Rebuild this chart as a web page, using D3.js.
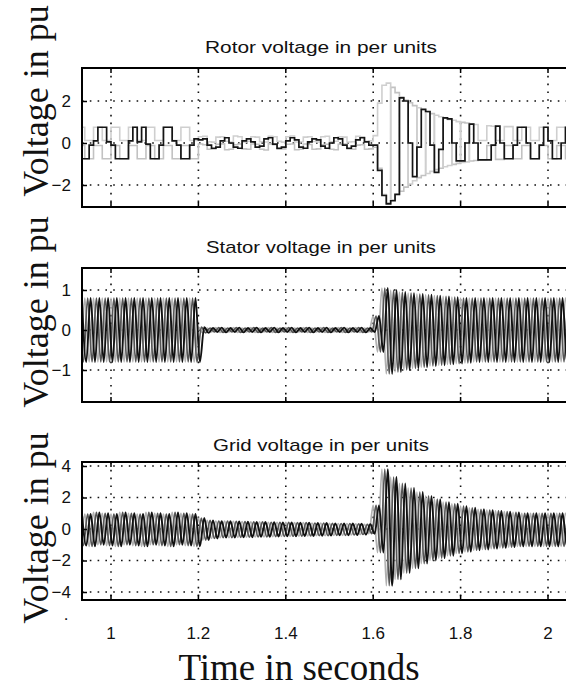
<!DOCTYPE html>
<html>
<head>
<meta charset="utf-8">
<script src="https://cdn.jsdelivr.net/npm/d3@7"></script>
<style>
  html, body { margin: 0; padding: 0; background: #fff; }
  svg { display: block; }
</style>
</head>
<body>
<svg id="chart" width="566" height="692"></svg>
<script>
// ---- data -------------------------------------------------------------
const xTicks = [1, 1.2, 1.4, 1.6, 1.8, 2];
const xTickLabels = ["1", "1.2", "1.4", "1.6", "1.8", "2"];

const rotorTicks = [-2, 0, 2];
const statorTicks = [-1, 0, 1];
const gridTicks = [-4, -2, 0, 2, 4];

const panelTitles = ["Rotor  voltage in per units", "Stator voltage in per units", "Grid voltage in per units"];
const yAxisLabel = "Voltage in pu";
const xAxisLabel = "Time in seconds";

// rotor quantities: held levels, one every 10 ms starting at t = 0.92 s
const rotorStart = 0.92, rotorHold = 0.01;
const rotorGrayHigh = [
  // 0.92 - 1.19
  0.75,0.75,0.12,0.12, 0.75,0.75,0.12,0.12, 0.75,0.75,0.12,0.12, 0.75,0.75,0.12,0.12,
  0.75,0.75,0.12,0.12, 0.75,0.75,0.12,0.12, 0.75,0.75,0.12,0.12,
  // 1.20 - 1.59
  0.3,0.32,0.06,0.04, 0.28,0.3,0.08,0.05, 0.33,0.3,0.05,0.08, 0.3,0.28,0.06,0.05,
  0.32,0.3,0.08,0.04, 0.3,0.33,0.05,0.06, 0.28,0.3,0.07,0.05, 0.3,0.32,0.06,0.08,
  0.3,0.28,0.05,0.06, 0.32,0.3,0.08,0.1,
  // 1.60 - 2.07
  0.35,1.9,2.75,2.85,-2.7,-2.45,2.2,2.05,-1.95,-1.8,
  1.68,1.58,-1.45,-1.35,1.32,1.25,-1.13,-1.07,1.08,1.02,
  -0.93,-0.9,0.92,0.88,0.12,0.12,0.82,0.8,0.12,0.12,
  0.78,0.78,0.12,0.12,0.75,0.75,0.12,0.12,0.75,0.75,
  0.12,0.12,0.75,0.75,0.12,0.12,0.75,0.75
];
const rotorGrayLow = [
  -0.12,-0.12,-0.75,-0.75, -0.12,-0.12,-0.75,-0.75, -0.12,-0.12,-0.75,-0.75, -0.12,-0.12,-0.75,-0.75,
  -0.12,-0.12,-0.75,-0.75, -0.12,-0.12,-0.75,-0.75, -0.12,-0.12,-0.75,-0.75,
  -0.05,-0.08,-0.3,-0.28, -0.06,-0.04,-0.32,-0.3, -0.08,-0.05,-0.28,-0.3, -0.05,-0.06,-0.3,-0.33,
  -0.04,-0.08,-0.3,-0.28, -0.06,-0.05,-0.32,-0.3, -0.05,-0.07,-0.3,-0.28, -0.08,-0.06,-0.3,-0.32,
  -0.06,-0.05,-0.28,-0.3, -0.1,-0.08,-0.3,-0.28,
  -0.2,-1.2,-2.45,-2.85,2.65,2.4,-2.3,-2.1,1.92,1.78,
  -1.65,-1.55,1.48,1.4,-1.27,-1.2,1.18,1.12,-1.02,-0.97,
  0.98,0.95,-0.86,-0.83,-0.8,-0.8,-0.12,-0.12,-0.78,-0.78,
  -0.12,-0.12,-0.75,-0.75,-0.12,-0.12,-0.75,-0.75,-0.12,-0.12,
  -0.75,-0.75,-0.12,-0.12,-0.75,-0.75,-0.12,-0.12
];
const rotorBlack = [
  -0.1,-0.75,-0.75,-0.1,0.1,0.75,0.75,0.05,
  -0.1,-0.75,-0.75,-0.75,0.1,0.75,0.05,0.75,
  -0.05,-0.75,-0.75,-0.1,0.75,0.75,0.1,-0.1,
  -0.75,-0.75,-0.1,0.2,
  0.15,0.2,-0.1,-0.25, -0.2,0.1,0.25,0.0, -0.2,-0.25,0.1,0.2, 0.05,-0.2,-0.15,0.2,
  0.25,-0.05,-0.25,-0.2, 0.1,0.25,0.15,-0.2, -0.25,0.05,0.2,0.15, -0.15,-0.25,0.0,0.25,
  0.2,-0.1,-0.25,-0.15, 0.15,0.25,0.05,-0.1,
  -0.1,-1.3,-2.5,-2.9,-2.75,-2.45,2.15,2.0,0.0,-1.6,
  -0.2,1.6,1.5,-0.1,-1.4,-0.3,1.2,1.15,0.0,-0.85,
  -0.85,0.0,0.9,0.0,-0.8,-0.8,-0.8,-0.1,0.8,0.0,
  -0.75,-0.75,-0.1,0.75,0.75,0.0,-0.75,-0.75,-0.1,0.75,
  0.1,-0.75,-0.75,0.0,0.75,0.75,-0.1,-0.75
];

// three-phase quantities: positive and negative peak of each 20 ms cycle from t = 0.92 s
const cycleStart = 0.92, cyclePeriod = 0.02;
const statorHigh = [
  0.8,0.8,0.8,0.8,0.8,0.8,0.8,0.8,0.8,0.8,0.8,0.8,0.8,0.8,
  0.07,0.05,0.06,0.05,0.06,0.05,0.06,0.05,0.06,0.05,0.06,0.05,0.06,0.05,0.06,0.05,0.06,0.05,0.06,0.05,
  0.35,1.05,1.0,0.95,0.92,0.9,0.88,0.86,0.84,0.82,0.8,0.8,0.8,0.8,0.8,0.8,0.8,0.8,0.8,0.8,0.8,0.8,0.8
];
const statorLow = [
  -0.8,-0.8,-0.8,-0.8,-0.8,-0.8,-0.8,-0.8,-0.8,-0.8,-0.8,-0.8,-0.8,-0.8,
  -0.07,-0.05,-0.06,-0.05,-0.06,-0.05,-0.06,-0.05,-0.06,-0.05,-0.06,-0.05,-0.06,-0.05,-0.06,-0.05,-0.06,-0.05,-0.06,-0.05,
  -0.55,-1.1,-1.05,-1.0,-0.96,-0.93,-0.9,-0.88,-0.86,-0.84,-0.82,-0.8,-0.8,-0.8,-0.8,-0.8,-0.8,-0.8,-0.8,-0.8,-0.8,-0.8,-0.8
];
const gridHigh = [
  1.0,0.95,1.05,1.0,0.95,1.05,1.0,0.95,1.05,1.0,0.95,1.05,1.0,0.95,
  0.7,0.55,0.5,0.5,0.48,0.47,0.45,0.45,0.43,0.42,0.42,0.4,0.4,0.38,0.38,0.36,0.35,0.35,0.33,0.3,
  1.5,3.8,3.3,2.9,2.6,2.35,2.1,1.9,1.7,1.6,1.45,1.35,1.25,1.2,1.15,1.1,1.05,1.0,1.0,1.0,1.0,1.0,1.0
];
const gridLow = [
  -1.05,-1.1,-1.0,-1.05,-1.1,-1.0,-1.05,-1.1,-1.0,-1.05,-1.1,-1.0,-1.05,-1.1,
  -0.7,-0.6,-0.55,-0.55,-0.53,-0.52,-0.5,-0.5,-0.48,-0.47,-0.46,-0.45,-0.44,-0.43,-0.42,-0.4,-0.4,-0.38,-0.35,-0.3,
  -1.5,-3.6,-3.2,-2.8,-2.5,-2.2,-2.0,-1.85,-1.7,-1.55,-1.45,-1.35,-1.3,-1.25,-1.2,-1.15,-1.1,-1.1,-1.1,-1.1,-1.1,-1.1,-1.1
];

// ---- layout -----------------------------------------------------------
const svg = d3.select("#chart");
const plotLeft = 82, plotRight = 574;
const x = d3.scaleLinear().domain([1, 2]).range([111, 548]);

const panels = [
  { top: 68,  bottom: 207, y: d3.scaleLinear().domain([-2, 2]).range([185, 101]), ticks: rotorTicks, titleY: 53, titleW: 232 },
  { top: 268, bottom: 402, y: d3.scaleLinear().domain([-1, 1]).range([370, 290]), ticks: statorTicks, titleY: 253, titleW: 230 },
  { top: 462, bottom: 600, y: d3.scaleLinear().domain([-4, 4]).range([592, 466]), ticks: gridTicks, titleY: 451, titleW: 216 }
];

const phaseShift = [0, cyclePeriod / 3, 2 * cyclePeriod / 3];
const phaseColor = ["#b0b0b0", "#555555", "#111111"];
const phaseWidth = [1.7, 1.7, 1.9];

function phasePoints(high, low, shift) {
  const pts = [];
  high.forEach((h, k) => {
    const t = cycleStart + k * cyclePeriod + shift;
    pts.push([t, h]);
    pts.push([t + cyclePeriod / 2, low[k]]);
  });
  return pts;
}
function heldPoints(values) {
  return values.map((v, k) => [rotorStart + k * rotorHold, v]);
}

panels.forEach((p, i) => {
  const g = svg.append("g");
  const clipId = "clip" + i;
  svg.append("clipPath").attr("id", clipId)
    .append("rect").attr("x", plotLeft).attr("y", p.top)
    .attr("width", plotRight - plotLeft).attr("height", p.bottom - p.top);

  // dotted grid
  const grid = g.append("g").attr("stroke", "#111").attr("stroke-width", 1.6)
    .attr("stroke-dasharray", "1.6,6.2");
  grid.selectAll("line.v").data(xTicks).join("line")
    .attr("x1", d => x(d)).attr("x2", d => x(d))
    .attr("y1", p.top).attr("y2", p.bottom);
  grid.selectAll("line.h").data(p.ticks).join("line")
    .attr("x1", plotLeft).attr("x2", plotRight)
    .attr("y1", d => p.y(d)).attr("y2", d => p.y(d));

  // signals
  const sig = g.append("g").attr("clip-path", `url(#${clipId})`).attr("fill", "none");
  if (i === 0) {
    const step = d3.line().x(d => x(d[0])).y(d => p.y(d[1])).curve(d3.curveStepAfter);
    sig.append("path").attr("d", step(heldPoints(rotorGrayLow))).attr("stroke", "#c2c2c2").attr("stroke-width", 1.6);
    sig.append("path").attr("d", step(heldPoints(rotorGrayHigh))).attr("stroke", "#cfcfcf").attr("stroke-width", 1.6);
    sig.append("path").attr("d", step(heldPoints(rotorBlack))).attr("stroke", "#151515").attr("stroke-width", 1.7);
  } else {
    const hi = i === 1 ? statorHigh : gridHigh;
    const lo = i === 1 ? statorLow : gridLow;
    const line = d3.line().x(d => x(d[0])).y(d => p.y(d[1])).curve(d3.curveMonotoneX);
    phaseShift.forEach((s, j) => {
      sig.append("path").attr("d", line(phasePoints(hi, lo, s)))
        .attr("stroke", phaseColor[j]).attr("stroke-width", phaseWidth[j]);
    });
  }

  // box
  g.append("path")
    .attr("d", `M${plotRight},${p.top}H${plotLeft}V${p.bottom}H${plotRight}`)
    .attr("fill", "none").attr("stroke", "#000").attr("stroke-width", 2);

  // y axis ticks and labels
  const yAxis = d3.axisLeft(p.y).tickValues(p.ticks).tickSize(-5).tickPadding(11)
    .tickFormat(d3.format("d"));
  const ya = g.append("g").attr("transform", `translate(${plotLeft},0)`).call(yAxis);
  ya.select(".domain").remove();
  ya.selectAll("line").attr("stroke", "#000").attr("stroke-width", 1.5);
  ya.selectAll("text").attr("font-family", "Arial, 'Liberation Sans', sans-serif")
    .attr("font-size", 17).attr("fill", "#111");

  // x ticks on top and bottom edges
  const xt = g.append("g").attr("stroke", "#000").attr("stroke-width", 1.5);
  xt.selectAll("line.t").data(xTicks).join("line")
    .attr("x1", d => x(d)).attr("x2", d => x(d)).attr("y1", p.top).attr("y2", p.top + 5);
  xt.selectAll("line.b").data(xTicks).join("line")
    .attr("x1", d => x(d)).attr("x2", d => x(d)).attr("y1", p.bottom).attr("y2", p.bottom - 5);

  // title
  svg.append("text").attr("x", 321).attr("y", p.titleY).attr("text-anchor", "middle")
    .attr("font-family", "'Liberation Sans Narrow', 'Arial Narrow', Arial, sans-serif")
    .attr("font-size", 17).attr("fill", "#111")
    .attr("textLength", p.titleW).attr("lengthAdjust", "spacingAndGlyphs")
    .text(panelTitles[i]);
});

// x tick labels under the last panel
svg.append("g").selectAll("text").data(xTicks).join("text")
  .attr("x", d => x(d)).attr("y", 639).attr("text-anchor", "middle")
  .attr("font-family", "Arial, 'Liberation Sans', sans-serif").attr("font-size", 17)
  .attr("fill", "#111").text((d, i) => xTickLabels[i]);

// stray mark below the last y tick
svg.append("text").attr("x", 66).attr("y", 620).attr("text-anchor", "middle")
  .attr("font-family", "Arial, sans-serif").attr("font-size", 17).attr("fill", "#111").text(".");

// axis titles
[101, 312, 528].forEach(cy => {
  svg.append("text").attr("transform", `translate(48,${cy}) rotate(-90)`)
    .attr("text-anchor", "middle")
    .attr("font-family", "'Liberation Serif', 'Times New Roman', serif")
    .attr("font-size", 36).attr("fill", "#111").text(yAxisLabel);
});
svg.append("text").attr("x", 299).attr("y", 680).attr("text-anchor", "middle")
  .attr("font-family", "'Liberation Serif', 'Times New Roman', serif")
  .attr("font-size", 37).attr("fill", "#111").text(xAxisLabel);
</script>
</body>
</html>
